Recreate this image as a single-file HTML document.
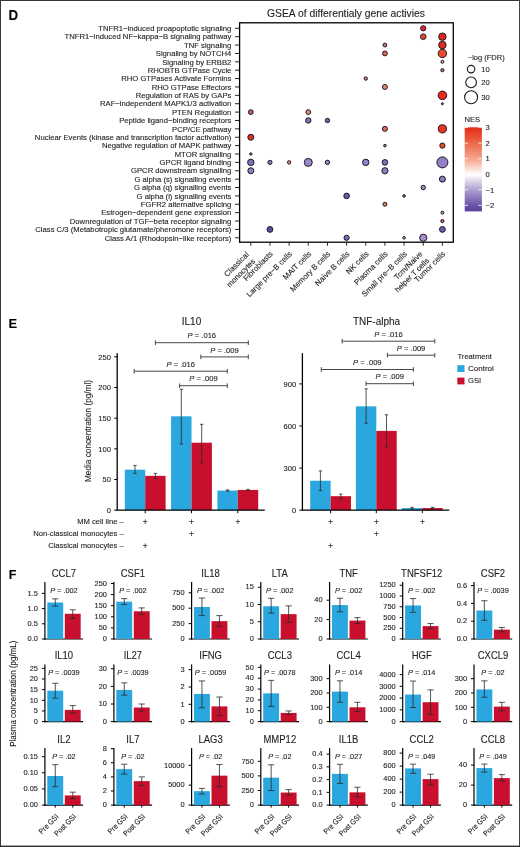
<!DOCTYPE html>
<html><head><meta charset="utf-8"><style>
html,body{margin:0;padding:0;background:#fff;}
svg{display:block;will-change:transform;font-family:"Liberation Sans", sans-serif;} text{stroke:#231f20;stroke-width:0.12px;}
</style></head><body>
<svg width="520" height="847" viewBox="0 0 520 847">
<rect x="0" y="0" width="520" height="847" fill="#fff"/>
<text transform="translate(8.40,19.70) scale(0.9,1)" font-size="14.8" text-anchor="start" fill="#000" font-weight="bold" >D</text>
<text transform="translate(8.60,327.60) scale(0.95,1)" font-size="13.6" text-anchor="start" fill="#000" font-weight="bold" >E</text>
<text transform="translate(8.80,579.10) scale(0.95,1)" font-size="13.2" text-anchor="start" fill="#000" font-weight="bold" >F</text>
<text x="346.00" y="17.20" font-size="10.3" text-anchor="middle" fill="#231f20" font-weight="normal" >GSEA of differentialy gene activies</text>
<text x="231.40" y="31.00" font-size="7.7" text-anchor="end" fill="#231f20" font-weight="normal" >TNFR1−induced proapoptotic signaling</text>
<line x1="235.00" y1="28.30" x2="239.60" y2="28.30" stroke="#231f20" stroke-width="1.0"/>
<text x="231.40" y="39.38" font-size="7.7" text-anchor="end" fill="#231f20" font-weight="normal" >TNFR1−induced NF−kappa−B signaling pathway</text>
<line x1="235.00" y1="36.68" x2="239.60" y2="36.68" stroke="#231f20" stroke-width="1.0"/>
<text x="231.40" y="47.76" font-size="7.7" text-anchor="end" fill="#231f20" font-weight="normal" >TNF signaling</text>
<line x1="235.00" y1="45.06" x2="239.60" y2="45.06" stroke="#231f20" stroke-width="1.0"/>
<text x="231.40" y="56.14" font-size="7.7" text-anchor="end" fill="#231f20" font-weight="normal" >Signaling by NOTCH4</text>
<line x1="235.00" y1="53.44" x2="239.60" y2="53.44" stroke="#231f20" stroke-width="1.0"/>
<text x="231.40" y="64.52" font-size="7.7" text-anchor="end" fill="#231f20" font-weight="normal" >Signaling by ERBB2</text>
<line x1="235.00" y1="61.82" x2="239.60" y2="61.82" stroke="#231f20" stroke-width="1.0"/>
<text x="231.40" y="72.90" font-size="7.7" text-anchor="end" fill="#231f20" font-weight="normal" >RHOBTB GTPase Cycle</text>
<line x1="235.00" y1="70.20" x2="239.60" y2="70.20" stroke="#231f20" stroke-width="1.0"/>
<text x="231.40" y="81.28" font-size="7.7" text-anchor="end" fill="#231f20" font-weight="normal" >RHO GTPases Activate Formins</text>
<line x1="235.00" y1="78.58" x2="239.60" y2="78.58" stroke="#231f20" stroke-width="1.0"/>
<text x="231.40" y="89.66" font-size="7.7" text-anchor="end" fill="#231f20" font-weight="normal" >RHO GTPase Effectors</text>
<line x1="235.00" y1="86.96" x2="239.60" y2="86.96" stroke="#231f20" stroke-width="1.0"/>
<text x="231.40" y="98.04" font-size="7.7" text-anchor="end" fill="#231f20" font-weight="normal" >Regulation of RAS by GAPs</text>
<line x1="235.00" y1="95.34" x2="239.60" y2="95.34" stroke="#231f20" stroke-width="1.0"/>
<text x="231.40" y="106.42" font-size="7.7" text-anchor="end" fill="#231f20" font-weight="normal" >RAF−independent MAPK1/3 activation</text>
<line x1="235.00" y1="103.72" x2="239.60" y2="103.72" stroke="#231f20" stroke-width="1.0"/>
<text x="231.40" y="114.80" font-size="7.7" text-anchor="end" fill="#231f20" font-weight="normal" >PTEN Regulation</text>
<line x1="235.00" y1="112.10" x2="239.60" y2="112.10" stroke="#231f20" stroke-width="1.0"/>
<text x="231.40" y="123.18" font-size="7.7" text-anchor="end" fill="#231f20" font-weight="normal" >Peptide ligand−binding receptors</text>
<line x1="235.00" y1="120.48" x2="239.60" y2="120.48" stroke="#231f20" stroke-width="1.0"/>
<text x="231.40" y="131.56" font-size="7.7" text-anchor="end" fill="#231f20" font-weight="normal" >PCP/CE pathway</text>
<line x1="235.00" y1="128.86" x2="239.60" y2="128.86" stroke="#231f20" stroke-width="1.0"/>
<text x="231.40" y="139.94" font-size="7.7" text-anchor="end" fill="#231f20" font-weight="normal" >Nuclear Events (kinase and transcription factor activation)</text>
<line x1="235.00" y1="137.24" x2="239.60" y2="137.24" stroke="#231f20" stroke-width="1.0"/>
<text x="231.40" y="148.32" font-size="7.7" text-anchor="end" fill="#231f20" font-weight="normal" >Negative regulation of MAPK pathway</text>
<line x1="235.00" y1="145.62" x2="239.60" y2="145.62" stroke="#231f20" stroke-width="1.0"/>
<text x="231.40" y="156.70" font-size="7.7" text-anchor="end" fill="#231f20" font-weight="normal" >MTOR signalling</text>
<line x1="235.00" y1="154.00" x2="239.60" y2="154.00" stroke="#231f20" stroke-width="1.0"/>
<text x="231.40" y="165.08" font-size="7.7" text-anchor="end" fill="#231f20" font-weight="normal" >GPCR ligand binding</text>
<line x1="235.00" y1="162.38" x2="239.60" y2="162.38" stroke="#231f20" stroke-width="1.0"/>
<text x="231.40" y="173.46" font-size="7.7" text-anchor="end" fill="#231f20" font-weight="normal" >GPCR downstream signalling</text>
<line x1="235.00" y1="170.76" x2="239.60" y2="170.76" stroke="#231f20" stroke-width="1.0"/>
<text x="231.40" y="181.84" font-size="7.7" text-anchor="end" fill="#231f20" font-weight="normal" >G alpha (s) signalling events</text>
<line x1="235.00" y1="179.14" x2="239.60" y2="179.14" stroke="#231f20" stroke-width="1.0"/>
<text x="231.40" y="190.22" font-size="7.7" text-anchor="end" fill="#231f20" font-weight="normal" >G alpha (q) signalling events</text>
<line x1="235.00" y1="187.52" x2="239.60" y2="187.52" stroke="#231f20" stroke-width="1.0"/>
<text x="231.40" y="198.60" font-size="7.7" text-anchor="end" fill="#231f20" font-weight="normal" >G alpha (i) signalling events</text>
<line x1="235.00" y1="195.90" x2="239.60" y2="195.90" stroke="#231f20" stroke-width="1.0"/>
<text x="231.40" y="206.98" font-size="7.7" text-anchor="end" fill="#231f20" font-weight="normal" >FGFR2 alternative splicing</text>
<line x1="235.00" y1="204.28" x2="239.60" y2="204.28" stroke="#231f20" stroke-width="1.0"/>
<text x="231.40" y="215.36" font-size="7.7" text-anchor="end" fill="#231f20" font-weight="normal" >Estrogen−dependent gene expression</text>
<line x1="235.00" y1="212.66" x2="239.60" y2="212.66" stroke="#231f20" stroke-width="1.0"/>
<text x="231.40" y="223.74" font-size="7.7" text-anchor="end" fill="#231f20" font-weight="normal" >Downregulation of TGF−beta receptor signaling</text>
<line x1="235.00" y1="221.04" x2="239.60" y2="221.04" stroke="#231f20" stroke-width="1.0"/>
<text x="231.40" y="232.12" font-size="7.7" text-anchor="end" fill="#231f20" font-weight="normal" >Class C/3 (Metabotropic glutamate/pheromone receptors)</text>
<line x1="235.00" y1="229.42" x2="239.60" y2="229.42" stroke="#231f20" stroke-width="1.0"/>
<text x="231.40" y="240.50" font-size="7.7" text-anchor="end" fill="#231f20" font-weight="normal" >Class A/1 (Rhodopsin−like receptors)</text>
<line x1="235.00" y1="237.80" x2="239.60" y2="237.80" stroke="#231f20" stroke-width="1.0"/>
<line x1="250.80" y1="242.20" x2="250.80" y2="245.70" stroke="#231f20" stroke-width="1.0"/>
<text transform="translate(249.40,255.10) rotate(-45)" font-size="7.8" text-anchor="end" fill="#231f20" >Classical</text>
<text transform="translate(255.80,261.70) rotate(-45)" font-size="7.6" text-anchor="end" fill="#231f20" >monocytes</text>
<line x1="269.96" y1="242.20" x2="269.96" y2="245.70" stroke="#231f20" stroke-width="1.0"/>
<text transform="translate(273.36,254.50) rotate(-45)" font-size="7.8" text-anchor="end" fill="#231f20" >Fibroblasts</text>
<line x1="289.12" y1="242.20" x2="289.12" y2="245.70" stroke="#231f20" stroke-width="1.0"/>
<text transform="translate(292.52,254.50) rotate(-45)" font-size="7.8" text-anchor="end" fill="#231f20" >Large pre−B cells</text>
<line x1="308.28" y1="242.20" x2="308.28" y2="245.70" stroke="#231f20" stroke-width="1.0"/>
<text transform="translate(311.68,254.50) rotate(-45)" font-size="7.8" text-anchor="end" fill="#231f20" >MAIT cells</text>
<line x1="327.44" y1="242.20" x2="327.44" y2="245.70" stroke="#231f20" stroke-width="1.0"/>
<text transform="translate(330.84,254.50) rotate(-45)" font-size="7.8" text-anchor="end" fill="#231f20" >Memory B cells</text>
<line x1="346.60" y1="242.20" x2="346.60" y2="245.70" stroke="#231f20" stroke-width="1.0"/>
<text transform="translate(350.00,254.50) rotate(-45)" font-size="7.8" text-anchor="end" fill="#231f20" >Naive B cells</text>
<line x1="365.76" y1="242.20" x2="365.76" y2="245.70" stroke="#231f20" stroke-width="1.0"/>
<text transform="translate(369.16,254.50) rotate(-45)" font-size="7.8" text-anchor="end" fill="#231f20" >NK cells</text>
<line x1="384.92" y1="242.20" x2="384.92" y2="245.70" stroke="#231f20" stroke-width="1.0"/>
<text transform="translate(388.32,254.50) rotate(-45)" font-size="7.8" text-anchor="end" fill="#231f20" >Plasma cells</text>
<line x1="404.08" y1="242.20" x2="404.08" y2="245.70" stroke="#231f20" stroke-width="1.0"/>
<text transform="translate(407.48,254.50) rotate(-45)" font-size="7.8" text-anchor="end" fill="#231f20" >Small pre−B cells</text>
<line x1="423.24" y1="242.20" x2="423.24" y2="245.70" stroke="#231f20" stroke-width="1.0"/>
<text transform="translate(423.04,254.50) rotate(-45)" font-size="7.8" text-anchor="end" fill="#231f20" >Tcm/Naive</text>
<text transform="translate(429.64,261.10) rotate(-45)" font-size="7.6" text-anchor="end" fill="#231f20" >helper T cells</text>
<line x1="442.40" y1="242.20" x2="442.40" y2="245.70" stroke="#231f20" stroke-width="1.0"/>
<text transform="translate(445.80,254.50) rotate(-45)" font-size="7.8" text-anchor="end" fill="#231f20" >Tumor cells</text>
<rect x="239.6" y="22.8" width="213.70" height="219.40" fill="none" stroke="#000" stroke-width="1.3"/>
<circle cx="442.40" cy="36.68" r="3.70" fill="#e52620" stroke="#1e1620" stroke-width="1.0"/>
<circle cx="442.40" cy="45.06" r="3.70" fill="#e32a22" stroke="#1e1620" stroke-width="1.0"/>
<circle cx="442.40" cy="53.44" r="4.20" fill="#ea4a28" stroke="#1e1620" stroke-width="1.0"/>
<circle cx="442.40" cy="61.82" r="1.50" fill="#e8a0a0" stroke="#1e1620" stroke-width="1.0"/>
<circle cx="442.40" cy="70.20" r="1.60" fill="#b87878" stroke="#1e1620" stroke-width="1.0"/>
<circle cx="442.40" cy="95.34" r="4.30" fill="#e82a1c" stroke="#1e1620" stroke-width="1.0"/>
<circle cx="442.40" cy="103.72" r="1.00" fill="#666" stroke="#1e1620" stroke-width="1.0"/>
<circle cx="442.40" cy="128.86" r="4.10" fill="#e8341e" stroke="#1e1620" stroke-width="1.0"/>
<circle cx="442.40" cy="145.62" r="2.60" fill="#e4502e" stroke="#1e1620" stroke-width="1.0"/>
<circle cx="442.40" cy="162.38" r="5.50" fill="#9580c8" stroke="#1e1620" stroke-width="1.0"/>
<circle cx="442.40" cy="179.14" r="3.00" fill="#8a7cc0" stroke="#1e1620" stroke-width="1.0"/>
<circle cx="442.40" cy="212.66" r="1.50" fill="#a8a888" stroke="#1e1620" stroke-width="1.0"/>
<circle cx="442.40" cy="221.04" r="1.60" fill="#d06050" stroke="#1e1620" stroke-width="1.0"/>
<circle cx="442.40" cy="229.42" r="2.90" fill="#6a5aa8" stroke="#1e1620" stroke-width="1.0"/>
<circle cx="423.24" cy="28.30" r="2.60" fill="#e0242a" stroke="#1e1620" stroke-width="1.0"/>
<circle cx="423.24" cy="36.68" r="2.80" fill="#e84a30" stroke="#1e1620" stroke-width="1.0"/>
<circle cx="423.24" cy="187.52" r="2.20" fill="#9a90b8" stroke="#1e1620" stroke-width="1.0"/>
<circle cx="423.24" cy="237.80" r="3.60" fill="#a48ed0" stroke="#1e1620" stroke-width="1.0"/>
<circle cx="404.08" cy="195.90" r="1.30" fill="#a08088" stroke="#1e1620" stroke-width="1.0"/>
<circle cx="404.08" cy="237.80" r="1.30" fill="#e0a890" stroke="#1e1620" stroke-width="1.0"/>
<circle cx="384.92" cy="45.06" r="1.90" fill="#c87c70" stroke="#1e1620" stroke-width="1.0"/>
<circle cx="384.92" cy="53.44" r="2.40" fill="#e26a50" stroke="#1e1620" stroke-width="1.0"/>
<circle cx="384.92" cy="86.96" r="2.50" fill="#e88a70" stroke="#1e1620" stroke-width="1.0"/>
<circle cx="384.92" cy="128.86" r="2.50" fill="#e46a50" stroke="#1e1620" stroke-width="1.0"/>
<circle cx="384.92" cy="145.62" r="1.30" fill="#c08068" stroke="#1e1620" stroke-width="1.0"/>
<circle cx="384.92" cy="162.38" r="2.80" fill="#8070c0" stroke="#1e1620" stroke-width="1.0"/>
<circle cx="384.92" cy="170.76" r="3.10" fill="#8e80c8" stroke="#1e1620" stroke-width="1.0"/>
<circle cx="384.92" cy="204.28" r="2.00" fill="#e07a60" stroke="#1e1620" stroke-width="1.0"/>
<circle cx="365.76" cy="78.58" r="1.70" fill="#c08878" stroke="#1e1620" stroke-width="1.0"/>
<circle cx="365.76" cy="162.38" r="3.20" fill="#9482c8" stroke="#1e1620" stroke-width="1.0"/>
<circle cx="346.60" cy="195.90" r="2.80" fill="#6a5aa8" stroke="#1e1620" stroke-width="1.0"/>
<circle cx="346.60" cy="237.80" r="2.60" fill="#7a6ab8" stroke="#1e1620" stroke-width="1.0"/>
<circle cx="327.44" cy="120.48" r="2.20" fill="#7868a8" stroke="#1e1620" stroke-width="1.0"/>
<circle cx="327.44" cy="162.38" r="2.20" fill="#9088b8" stroke="#1e1620" stroke-width="1.0"/>
<circle cx="308.28" cy="112.10" r="2.40" fill="#d89070" stroke="#1e1620" stroke-width="1.0"/>
<circle cx="308.28" cy="120.48" r="2.70" fill="#8070c0" stroke="#1e1620" stroke-width="1.0"/>
<circle cx="308.28" cy="162.38" r="4.00" fill="#9a88cc" stroke="#1e1620" stroke-width="1.0"/>
<circle cx="289.12" cy="162.38" r="1.70" fill="#e09070" stroke="#1e1620" stroke-width="1.0"/>
<circle cx="269.96" cy="162.38" r="2.10" fill="#8878c0" stroke="#1e1620" stroke-width="1.0"/>
<circle cx="269.96" cy="229.42" r="2.90" fill="#5e4ea0" stroke="#1e1620" stroke-width="1.0"/>
<circle cx="250.80" cy="112.10" r="2.40" fill="#c86060" stroke="#1e1620" stroke-width="1.0"/>
<circle cx="250.80" cy="137.24" r="3.00" fill="#e03020" stroke="#1e1620" stroke-width="1.0"/>
<circle cx="250.80" cy="154.00" r="1.20" fill="#8080a0" stroke="#1e1620" stroke-width="1.0"/>
<circle cx="250.80" cy="162.38" r="3.20" fill="#8070c0" stroke="#1e1620" stroke-width="1.0"/>
<circle cx="250.80" cy="170.76" r="3.00" fill="#8e80c4" stroke="#1e1620" stroke-width="1.0"/>
<text x="467.80" y="60.20" font-size="7.5" text-anchor="start" fill="#231f20" font-weight="normal" >−log (FDR)</text>
<circle cx="471.1" cy="69.1" r="3.75" fill="none" stroke="#1a1a1a" stroke-width="1.1"/>
<text x="481.30" y="71.60" font-size="7.65" text-anchor="start" fill="#231f20" font-weight="normal" >10</text>
<circle cx="471.1" cy="82.4" r="5.35" fill="none" stroke="#1a1a1a" stroke-width="1.1"/>
<text x="481.30" y="85.00" font-size="7.65" text-anchor="start" fill="#231f20" font-weight="normal" >20</text>
<circle cx="471.1" cy="97.3" r="6.5" fill="none" stroke="#1a1a1a" stroke-width="1.1"/>
<text x="481.30" y="100.00" font-size="7.65" text-anchor="start" fill="#231f20" font-weight="normal" >30</text>
<text x="464.50" y="121.80" font-size="7.65" text-anchor="start" fill="#231f20" font-weight="normal" >NES</text>
<defs><linearGradient id="nes" x1="0" y1="0" x2="0" y2="1"><stop offset="0" stop-color="#e42a1a"/><stop offset="0.193" stop-color="#ee6a4a"/><stop offset="0.378" stop-color="#f5a58e"/><stop offset="0.563" stop-color="#ffffff"/><stop offset="0.748" stop-color="#ad9dcf"/><stop offset="0.933" stop-color="#6a50a8"/><stop offset="1" stop-color="#5a3e98"/></linearGradient></defs>
<rect x="464.7" y="127.3" width="17.2" height="84.1" fill="url(#nes)"/>
<line x1="464.50" y1="127.60" x2="468.00" y2="127.60" stroke="#fff" stroke-width="0.8"/>
<line x1="478.30" y1="127.60" x2="481.80" y2="127.60" stroke="#fff" stroke-width="0.8"/>
<text x="485.50" y="130.30" font-size="7.65" text-anchor="start" fill="#231f20" font-weight="normal" >3</text>
<line x1="464.50" y1="143.15" x2="468.00" y2="143.15" stroke="#fff" stroke-width="0.8"/>
<line x1="478.30" y1="143.15" x2="481.80" y2="143.15" stroke="#fff" stroke-width="0.8"/>
<text x="485.50" y="145.85" font-size="7.65" text-anchor="start" fill="#231f20" font-weight="normal" >2</text>
<line x1="464.50" y1="158.70" x2="468.00" y2="158.70" stroke="#fff" stroke-width="0.8"/>
<line x1="478.30" y1="158.70" x2="481.80" y2="158.70" stroke="#fff" stroke-width="0.8"/>
<text x="485.50" y="161.40" font-size="7.65" text-anchor="start" fill="#231f20" font-weight="normal" >1</text>
<line x1="464.50" y1="174.25" x2="468.00" y2="174.25" stroke="#fff" stroke-width="0.8"/>
<line x1="478.30" y1="174.25" x2="481.80" y2="174.25" stroke="#fff" stroke-width="0.8"/>
<text x="485.50" y="176.95" font-size="7.65" text-anchor="start" fill="#231f20" font-weight="normal" >0</text>
<line x1="464.50" y1="189.80" x2="468.00" y2="189.80" stroke="#fff" stroke-width="0.8"/>
<line x1="478.30" y1="189.80" x2="481.80" y2="189.80" stroke="#fff" stroke-width="0.8"/>
<text x="485.50" y="192.50" font-size="7.65" text-anchor="start" fill="#231f20" font-weight="normal" >−1</text>
<line x1="464.50" y1="205.35" x2="468.00" y2="205.35" stroke="#fff" stroke-width="0.8"/>
<line x1="478.30" y1="205.35" x2="481.80" y2="205.35" stroke="#fff" stroke-width="0.8"/>
<text x="485.50" y="208.05" font-size="7.65" text-anchor="start" fill="#231f20" font-weight="normal" >−2</text>
<line x1="117.20" y1="510.20" x2="117.20" y2="353.20" stroke="#000" stroke-width="1.3"/>
<line x1="114.20" y1="510.20" x2="117.20" y2="510.20" stroke="#000" stroke-width="1.0"/>
<text transform="translate(111.00,512.90) scale(0.95,1)" font-size="8.0" text-anchor="end" fill="#231f20" font-weight="normal" >0</text>
<line x1="114.20" y1="479.52" x2="117.20" y2="479.52" stroke="#000" stroke-width="1.0"/>
<text transform="translate(111.00,482.22) scale(0.95,1)" font-size="8.0" text-anchor="end" fill="#231f20" font-weight="normal" >50</text>
<line x1="114.20" y1="448.84" x2="117.20" y2="448.84" stroke="#000" stroke-width="1.0"/>
<text transform="translate(111.00,451.54) scale(0.95,1)" font-size="8.0" text-anchor="end" fill="#231f20" font-weight="normal" >100</text>
<line x1="114.20" y1="418.16" x2="117.20" y2="418.16" stroke="#000" stroke-width="1.0"/>
<text transform="translate(111.00,420.86) scale(0.95,1)" font-size="8.0" text-anchor="end" fill="#231f20" font-weight="normal" >150</text>
<line x1="114.20" y1="387.48" x2="117.20" y2="387.48" stroke="#000" stroke-width="1.0"/>
<text transform="translate(111.00,390.18) scale(0.95,1)" font-size="8.0" text-anchor="end" fill="#231f20" font-weight="normal" >200</text>
<line x1="114.20" y1="356.80" x2="117.20" y2="356.80" stroke="#000" stroke-width="1.0"/>
<text transform="translate(111.00,359.50) scale(0.95,1)" font-size="8.0" text-anchor="end" fill="#231f20" font-weight="normal" >250</text>
<text x="191.50" y="324.60" font-size="10" text-anchor="middle" fill="#231f20" font-weight="normal" >IL10</text>
<rect x="124.80" y="469.70" width="20.4" height="40.50" fill="#2aa7df"/>
<rect x="145.20" y="475.84" width="20.4" height="34.36" fill="#c8102e"/>
<line x1="135.00" y1="473.38" x2="135.00" y2="465.41" stroke="#2a2a2a" stroke-width="0.8"/>
<line x1="133.30" y1="473.38" x2="136.70" y2="473.38" stroke="#2a2a2a" stroke-width="0.8"/>
<line x1="133.30" y1="465.41" x2="136.70" y2="465.41" stroke="#2a2a2a" stroke-width="0.8"/>
<line x1="155.40" y1="478.29" x2="155.40" y2="473.38" stroke="#2a2a2a" stroke-width="0.8"/>
<line x1="153.70" y1="478.29" x2="157.10" y2="478.29" stroke="#2a2a2a" stroke-width="0.8"/>
<line x1="153.70" y1="473.38" x2="157.10" y2="473.38" stroke="#2a2a2a" stroke-width="0.8"/>
<line x1="145.20" y1="510.20" x2="145.20" y2="513.20" stroke="#000" stroke-width="1.0"/>
<rect x="171.10" y="416.32" width="20.4" height="93.88" fill="#2aa7df"/>
<rect x="191.50" y="442.70" width="20.4" height="67.50" fill="#c8102e"/>
<line x1="181.30" y1="443.93" x2="181.30" y2="389.32" stroke="#2a2a2a" stroke-width="0.8"/>
<line x1="179.60" y1="443.93" x2="183.00" y2="443.93" stroke="#2a2a2a" stroke-width="0.8"/>
<line x1="179.60" y1="389.32" x2="183.00" y2="389.32" stroke="#2a2a2a" stroke-width="0.8"/>
<line x1="201.70" y1="462.95" x2="201.70" y2="424.30" stroke="#2a2a2a" stroke-width="0.8"/>
<line x1="200.00" y1="462.95" x2="203.40" y2="462.95" stroke="#2a2a2a" stroke-width="0.8"/>
<line x1="200.00" y1="424.30" x2="203.40" y2="424.30" stroke="#2a2a2a" stroke-width="0.8"/>
<line x1="191.50" y1="510.20" x2="191.50" y2="513.20" stroke="#000" stroke-width="1.0"/>
<rect x="217.40" y="490.56" width="20.4" height="19.64" fill="#2aa7df"/>
<rect x="237.80" y="489.95" width="20.4" height="20.25" fill="#c8102e"/>
<line x1="227.60" y1="491.18" x2="227.60" y2="489.95" stroke="#2a2a2a" stroke-width="0.8"/>
<line x1="225.90" y1="491.18" x2="229.30" y2="491.18" stroke="#2a2a2a" stroke-width="0.8"/>
<line x1="225.90" y1="489.95" x2="229.30" y2="489.95" stroke="#2a2a2a" stroke-width="0.8"/>
<line x1="248.00" y1="490.56" x2="248.00" y2="489.34" stroke="#2a2a2a" stroke-width="0.8"/>
<line x1="246.30" y1="490.56" x2="249.70" y2="490.56" stroke="#2a2a2a" stroke-width="0.8"/>
<line x1="246.30" y1="489.34" x2="249.70" y2="489.34" stroke="#2a2a2a" stroke-width="0.8"/>
<line x1="237.80" y1="510.20" x2="237.80" y2="513.20" stroke="#000" stroke-width="1.0"/>
<line x1="116.55" y1="510.20" x2="264.80" y2="510.20" stroke="#000" stroke-width="1.3"/>
<line x1="155.40" y1="342.70" x2="248.30" y2="342.70" stroke="#333" stroke-width="0.9"/>
<line x1="155.40" y1="340.40" x2="155.40" y2="345.00" stroke="#333" stroke-width="0.9"/>
<line x1="248.30" y1="340.40" x2="248.30" y2="345.00" stroke="#333" stroke-width="0.9"/>
<text x="201.85" y="338.40" font-size="7.6" text-anchor="middle" fill="#231f20"><tspan font-style="italic">P</tspan> = .016</text>
<line x1="200.80" y1="356.90" x2="248.30" y2="356.90" stroke="#333" stroke-width="0.9"/>
<line x1="200.80" y1="354.60" x2="200.80" y2="359.20" stroke="#333" stroke-width="0.9"/>
<line x1="248.30" y1="354.60" x2="248.30" y2="359.20" stroke="#333" stroke-width="0.9"/>
<text x="224.55" y="352.60" font-size="7.6" text-anchor="middle" fill="#231f20"><tspan font-style="italic">P</tspan> = .009</text>
<line x1="134.20" y1="371.20" x2="227.30" y2="371.20" stroke="#333" stroke-width="0.9"/>
<line x1="134.20" y1="368.90" x2="134.20" y2="373.50" stroke="#333" stroke-width="0.9"/>
<line x1="227.30" y1="368.90" x2="227.30" y2="373.50" stroke="#333" stroke-width="0.9"/>
<text x="180.75" y="366.90" font-size="7.6" text-anchor="middle" fill="#231f20"><tspan font-style="italic">P</tspan> = .016</text>
<line x1="179.60" y1="385.70" x2="227.30" y2="385.70" stroke="#333" stroke-width="0.9"/>
<line x1="179.60" y1="383.40" x2="179.60" y2="388.00" stroke="#333" stroke-width="0.9"/>
<line x1="227.30" y1="383.40" x2="227.30" y2="388.00" stroke="#333" stroke-width="0.9"/>
<text x="203.45" y="381.40" font-size="7.6" text-anchor="middle" fill="#231f20"><tspan font-style="italic">P</tspan> = .009</text>
<text x="145.20" y="524.80" font-size="8.2" text-anchor="middle" fill="#231f20" font-weight="normal" >+</text>
<text x="191.50" y="524.80" font-size="8.2" text-anchor="middle" fill="#231f20" font-weight="normal" >+</text>
<text x="237.80" y="524.80" font-size="8.2" text-anchor="middle" fill="#231f20" font-weight="normal" >+</text>
<text x="191.50" y="536.90" font-size="8.2" text-anchor="middle" fill="#231f20" font-weight="normal" >+</text>
<text x="145.20" y="549.00" font-size="8.2" text-anchor="middle" fill="#231f20" font-weight="normal" >+</text>
<line x1="302.40" y1="510.20" x2="302.40" y2="353.20" stroke="#000" stroke-width="1.3"/>
<line x1="299.40" y1="510.20" x2="302.40" y2="510.20" stroke="#000" stroke-width="1.0"/>
<text transform="translate(296.20,512.90) scale(0.95,1)" font-size="8.0" text-anchor="end" fill="#231f20" font-weight="normal" >0</text>
<line x1="299.40" y1="468.10" x2="302.40" y2="468.10" stroke="#000" stroke-width="1.0"/>
<text transform="translate(296.20,470.80) scale(0.95,1)" font-size="8.0" text-anchor="end" fill="#231f20" font-weight="normal" >300</text>
<line x1="299.40" y1="426.00" x2="302.40" y2="426.00" stroke="#000" stroke-width="1.0"/>
<text transform="translate(296.20,428.70) scale(0.95,1)" font-size="8.0" text-anchor="end" fill="#231f20" font-weight="normal" >600</text>
<line x1="299.40" y1="383.90" x2="302.40" y2="383.90" stroke="#000" stroke-width="1.0"/>
<text transform="translate(296.20,386.60) scale(0.95,1)" font-size="8.0" text-anchor="end" fill="#231f20" font-weight="normal" >900</text>
<text x="376.50" y="324.60" font-size="10" text-anchor="middle" fill="#231f20" font-weight="normal" >TNF-alpha</text>
<rect x="310.20" y="480.73" width="20.4" height="29.47" fill="#2aa7df"/>
<rect x="330.60" y="496.17" width="20.4" height="14.03" fill="#c8102e"/>
<line x1="320.40" y1="490.55" x2="320.40" y2="470.91" stroke="#2a2a2a" stroke-width="0.8"/>
<line x1="318.70" y1="490.55" x2="322.10" y2="490.55" stroke="#2a2a2a" stroke-width="0.8"/>
<line x1="318.70" y1="470.91" x2="322.10" y2="470.91" stroke="#2a2a2a" stroke-width="0.8"/>
<line x1="340.80" y1="498.97" x2="340.80" y2="494.06" stroke="#2a2a2a" stroke-width="0.8"/>
<line x1="339.10" y1="498.97" x2="342.50" y2="498.97" stroke="#2a2a2a" stroke-width="0.8"/>
<line x1="339.10" y1="494.06" x2="342.50" y2="494.06" stroke="#2a2a2a" stroke-width="0.8"/>
<line x1="330.60" y1="510.20" x2="330.60" y2="513.20" stroke="#000" stroke-width="1.0"/>
<rect x="355.90" y="406.35" width="20.4" height="103.85" fill="#2aa7df"/>
<rect x="376.30" y="430.91" width="20.4" height="79.29" fill="#c8102e"/>
<line x1="366.10" y1="423.19" x2="366.10" y2="388.81" stroke="#2a2a2a" stroke-width="0.8"/>
<line x1="364.40" y1="423.19" x2="367.80" y2="423.19" stroke="#2a2a2a" stroke-width="0.8"/>
<line x1="364.40" y1="388.81" x2="367.80" y2="388.81" stroke="#2a2a2a" stroke-width="0.8"/>
<line x1="386.50" y1="447.05" x2="386.50" y2="414.77" stroke="#2a2a2a" stroke-width="0.8"/>
<line x1="384.80" y1="447.05" x2="388.20" y2="447.05" stroke="#2a2a2a" stroke-width="0.8"/>
<line x1="384.80" y1="414.77" x2="388.20" y2="414.77" stroke="#2a2a2a" stroke-width="0.8"/>
<line x1="376.30" y1="510.20" x2="376.30" y2="513.20" stroke="#000" stroke-width="1.0"/>
<rect x="401.90" y="508.09" width="20.4" height="2.10" fill="#2aa7df"/>
<rect x="422.30" y="508.09" width="20.4" height="2.10" fill="#c8102e"/>
<line x1="412.10" y1="508.80" x2="412.10" y2="507.39" stroke="#2a2a2a" stroke-width="0.8"/>
<line x1="410.40" y1="508.80" x2="413.80" y2="508.80" stroke="#2a2a2a" stroke-width="0.8"/>
<line x1="410.40" y1="507.39" x2="413.80" y2="507.39" stroke="#2a2a2a" stroke-width="0.8"/>
<line x1="432.50" y1="508.80" x2="432.50" y2="507.39" stroke="#2a2a2a" stroke-width="0.8"/>
<line x1="430.80" y1="508.80" x2="434.20" y2="508.80" stroke="#2a2a2a" stroke-width="0.8"/>
<line x1="430.80" y1="507.39" x2="434.20" y2="507.39" stroke="#2a2a2a" stroke-width="0.8"/>
<line x1="422.30" y1="510.20" x2="422.30" y2="513.20" stroke="#000" stroke-width="1.0"/>
<line x1="301.75" y1="510.20" x2="449.30" y2="510.20" stroke="#000" stroke-width="1.3"/>
<line x1="342.10" y1="341.20" x2="434.80" y2="341.20" stroke="#333" stroke-width="0.9"/>
<line x1="342.10" y1="338.90" x2="342.10" y2="343.50" stroke="#333" stroke-width="0.9"/>
<line x1="434.80" y1="338.90" x2="434.80" y2="343.50" stroke="#333" stroke-width="0.9"/>
<text x="388.45" y="336.90" font-size="7.6" text-anchor="middle" fill="#231f20"><tspan font-style="italic">P</tspan> = .016</text>
<line x1="387.40" y1="355.20" x2="434.80" y2="355.20" stroke="#333" stroke-width="0.9"/>
<line x1="387.40" y1="352.90" x2="387.40" y2="357.50" stroke="#333" stroke-width="0.9"/>
<line x1="434.80" y1="352.90" x2="434.80" y2="357.50" stroke="#333" stroke-width="0.9"/>
<text x="411.10" y="350.90" font-size="7.6" text-anchor="middle" fill="#231f20"><tspan font-style="italic">P</tspan> = .009</text>
<line x1="321.30" y1="369.50" x2="413.40" y2="369.50" stroke="#333" stroke-width="0.9"/>
<line x1="321.30" y1="367.20" x2="321.30" y2="371.80" stroke="#333" stroke-width="0.9"/>
<line x1="413.40" y1="367.20" x2="413.40" y2="371.80" stroke="#333" stroke-width="0.9"/>
<text x="367.35" y="365.20" font-size="7.6" text-anchor="middle" fill="#231f20"><tspan font-style="italic">P</tspan> = .009</text>
<line x1="366.00" y1="383.70" x2="413.40" y2="383.70" stroke="#333" stroke-width="0.9"/>
<line x1="366.00" y1="381.40" x2="366.00" y2="386.00" stroke="#333" stroke-width="0.9"/>
<line x1="413.40" y1="381.40" x2="413.40" y2="386.00" stroke="#333" stroke-width="0.9"/>
<text x="389.70" y="379.40" font-size="7.6" text-anchor="middle" fill="#231f20"><tspan font-style="italic">P</tspan> = .009</text>
<text x="330.60" y="524.80" font-size="8.2" text-anchor="middle" fill="#231f20" font-weight="normal" >+</text>
<text x="376.30" y="524.80" font-size="8.2" text-anchor="middle" fill="#231f20" font-weight="normal" >+</text>
<text x="422.30" y="524.80" font-size="8.2" text-anchor="middle" fill="#231f20" font-weight="normal" >+</text>
<text x="376.30" y="536.90" font-size="8.2" text-anchor="middle" fill="#231f20" font-weight="normal" >+</text>
<text x="330.60" y="549.00" font-size="8.2" text-anchor="middle" fill="#231f20" font-weight="normal" >+</text>
<text transform="translate(91.00,431.00) rotate(-90)" font-size="9.8" text-anchor="middle" fill="#231f20" textLength="102" lengthAdjust="spacingAndGlyphs" >Media concentration (pg/ml)</text>
<text x="123.70" y="524.00" font-size="7.6" text-anchor="end" fill="#231f20" font-weight="normal" >MM cell line –</text>
<text x="123.70" y="536.10" font-size="7.6" text-anchor="end" fill="#231f20" font-weight="normal" >Non-classical monocytes –</text>
<text x="123.70" y="548.20" font-size="7.6" text-anchor="end" fill="#231f20" font-weight="normal" >Classical monocytes –</text>
<text x="457.50" y="359.10" font-size="7.6" text-anchor="start" fill="#231f20" font-weight="normal" >Treatment</text>
<rect x="457.3" y="365.2" width="7.2" height="6.8" fill="#2aa7df"/>
<rect x="457.3" y="377.6" width="7.2" height="6.8" fill="#c8102e"/>
<text x="468.00" y="371.30" font-size="8.0" text-anchor="start" fill="#231f20" font-weight="normal" >Control</text>
<text x="468.00" y="382.90" font-size="7.6" text-anchor="start" fill="#231f20" font-weight="normal" >GSI</text>
<line x1="44.90" y1="639.60" x2="44.90" y2="582.00" stroke="#000" stroke-width="1.2"/>
<line x1="44.30" y1="639.00" x2="83.10" y2="639.00" stroke="#000" stroke-width="1.2"/>
<line x1="41.90" y1="639.00" x2="44.90" y2="639.00" stroke="#000" stroke-width="1.0"/>
<text x="37.90" y="641.20" font-size="7.4" text-anchor="end" fill="#231f20" font-weight="normal" >0.0</text>
<line x1="41.90" y1="623.80" x2="44.90" y2="623.80" stroke="#000" stroke-width="1.0"/>
<text x="37.90" y="626.00" font-size="7.4" text-anchor="end" fill="#231f20" font-weight="normal" >0.5</text>
<line x1="41.90" y1="608.60" x2="44.90" y2="608.60" stroke="#000" stroke-width="1.0"/>
<text x="37.90" y="610.80" font-size="7.4" text-anchor="end" fill="#231f20" font-weight="normal" >1.0</text>
<line x1="41.90" y1="593.40" x2="44.90" y2="593.40" stroke="#000" stroke-width="1.0"/>
<text x="37.90" y="595.60" font-size="7.4" text-anchor="end" fill="#231f20" font-weight="normal" >1.5</text>
<text transform="translate(63.90,576.50) scale(0.95,1)" font-size="10.0" text-anchor="middle" fill="#231f20" font-weight="normal" >CCL7</text>
<text x="63.90" y="592.80" font-size="7.3" text-anchor="middle" fill="#231f20"><tspan font-style="italic">P</tspan> = .002</text>
<rect x="47.30" y="602.52" width="15.9" height="36.48" fill="#2aa7df"/>
<line x1="55.25" y1="606.17" x2="55.25" y2="598.87" stroke="#2a2a2a" stroke-width="0.8"/>
<line x1="52.15" y1="606.17" x2="58.35" y2="606.17" stroke="#2a2a2a" stroke-width="0.8"/>
<line x1="52.15" y1="598.87" x2="58.35" y2="598.87" stroke="#2a2a2a" stroke-width="0.8"/>
<rect x="64.80" y="613.77" width="15.9" height="25.23" fill="#c8102e"/>
<line x1="72.75" y1="618.33" x2="72.75" y2="609.82" stroke="#2a2a2a" stroke-width="0.8"/>
<line x1="69.65" y1="618.33" x2="75.85" y2="618.33" stroke="#2a2a2a" stroke-width="0.8"/>
<line x1="69.65" y1="609.82" x2="75.85" y2="609.82" stroke="#2a2a2a" stroke-width="0.8"/>
<line x1="113.90" y1="639.60" x2="113.90" y2="582.00" stroke="#000" stroke-width="1.2"/>
<line x1="113.30" y1="639.00" x2="152.10" y2="639.00" stroke="#000" stroke-width="1.2"/>
<line x1="110.90" y1="639.00" x2="113.90" y2="639.00" stroke="#000" stroke-width="1.0"/>
<text x="106.90" y="641.20" font-size="7.4" text-anchor="end" fill="#231f20" font-weight="normal" >0</text>
<line x1="110.90" y1="627.90" x2="113.90" y2="627.90" stroke="#000" stroke-width="1.0"/>
<text x="106.90" y="630.10" font-size="7.4" text-anchor="end" fill="#231f20" font-weight="normal" >50</text>
<line x1="110.90" y1="616.80" x2="113.90" y2="616.80" stroke="#000" stroke-width="1.0"/>
<text x="106.90" y="619.00" font-size="7.4" text-anchor="end" fill="#231f20" font-weight="normal" >100</text>
<line x1="110.90" y1="605.70" x2="113.90" y2="605.70" stroke="#000" stroke-width="1.0"/>
<text x="106.90" y="607.90" font-size="7.4" text-anchor="end" fill="#231f20" font-weight="normal" >150</text>
<line x1="110.90" y1="594.60" x2="113.90" y2="594.60" stroke="#000" stroke-width="1.0"/>
<text x="106.90" y="596.80" font-size="7.4" text-anchor="end" fill="#231f20" font-weight="normal" >200</text>
<line x1="110.90" y1="583.50" x2="113.90" y2="583.50" stroke="#000" stroke-width="1.0"/>
<text x="106.90" y="585.70" font-size="7.4" text-anchor="end" fill="#231f20" font-weight="normal" >250</text>
<text transform="translate(132.90,576.50) scale(0.95,1)" font-size="10.0" text-anchor="middle" fill="#231f20" font-weight="normal" >CSF1</text>
<text x="132.90" y="592.80" font-size="7.3" text-anchor="middle" fill="#231f20"><tspan font-style="italic">P</tspan> = .002</text>
<rect x="116.30" y="601.70" width="15.9" height="37.30" fill="#2aa7df"/>
<line x1="124.25" y1="604.59" x2="124.25" y2="598.60" stroke="#2a2a2a" stroke-width="0.8"/>
<line x1="121.15" y1="604.59" x2="127.35" y2="604.59" stroke="#2a2a2a" stroke-width="0.8"/>
<line x1="121.15" y1="598.60" x2="127.35" y2="598.60" stroke="#2a2a2a" stroke-width="0.8"/>
<rect x="133.80" y="611.25" width="15.9" height="27.75" fill="#c8102e"/>
<line x1="141.75" y1="614.58" x2="141.75" y2="607.92" stroke="#2a2a2a" stroke-width="0.8"/>
<line x1="138.65" y1="614.58" x2="144.85" y2="614.58" stroke="#2a2a2a" stroke-width="0.8"/>
<line x1="138.65" y1="607.92" x2="144.85" y2="607.92" stroke="#2a2a2a" stroke-width="0.8"/>
<line x1="191.60" y1="639.60" x2="191.60" y2="582.00" stroke="#000" stroke-width="1.2"/>
<line x1="191.00" y1="639.00" x2="229.80" y2="639.00" stroke="#000" stroke-width="1.2"/>
<line x1="188.60" y1="639.00" x2="191.60" y2="639.00" stroke="#000" stroke-width="1.0"/>
<text x="184.60" y="641.20" font-size="7.4" text-anchor="end" fill="#231f20" font-weight="normal" >0</text>
<line x1="188.60" y1="623.60" x2="191.60" y2="623.60" stroke="#000" stroke-width="1.0"/>
<text x="184.60" y="625.80" font-size="7.4" text-anchor="end" fill="#231f20" font-weight="normal" >250</text>
<line x1="188.60" y1="608.20" x2="191.60" y2="608.20" stroke="#000" stroke-width="1.0"/>
<text x="184.60" y="610.40" font-size="7.4" text-anchor="end" fill="#231f20" font-weight="normal" >500</text>
<line x1="188.60" y1="592.80" x2="191.60" y2="592.80" stroke="#000" stroke-width="1.0"/>
<text x="184.60" y="595.00" font-size="7.4" text-anchor="end" fill="#231f20" font-weight="normal" >750</text>
<text transform="translate(210.60,576.50) scale(0.95,1)" font-size="10.0" text-anchor="middle" fill="#231f20" font-weight="normal" >IL18</text>
<text x="210.60" y="592.80" font-size="7.3" text-anchor="middle" fill="#231f20"><tspan font-style="italic">P</tspan> = .002</text>
<rect x="194.00" y="606.97" width="15.9" height="32.03" fill="#2aa7df"/>
<line x1="201.95" y1="615.59" x2="201.95" y2="598.04" stroke="#2a2a2a" stroke-width="0.8"/>
<line x1="198.85" y1="615.59" x2="205.05" y2="615.59" stroke="#2a2a2a" stroke-width="0.8"/>
<line x1="198.85" y1="598.04" x2="205.05" y2="598.04" stroke="#2a2a2a" stroke-width="0.8"/>
<rect x="211.50" y="621.14" width="15.9" height="17.86" fill="#c8102e"/>
<line x1="219.45" y1="626.37" x2="219.45" y2="615.59" stroke="#2a2a2a" stroke-width="0.8"/>
<line x1="216.35" y1="626.37" x2="222.55" y2="626.37" stroke="#2a2a2a" stroke-width="0.8"/>
<line x1="216.35" y1="615.59" x2="222.55" y2="615.59" stroke="#2a2a2a" stroke-width="0.8"/>
<line x1="260.80" y1="639.60" x2="260.80" y2="582.00" stroke="#000" stroke-width="1.2"/>
<line x1="260.20" y1="639.00" x2="299.00" y2="639.00" stroke="#000" stroke-width="1.2"/>
<line x1="257.80" y1="639.00" x2="260.80" y2="639.00" stroke="#000" stroke-width="1.0"/>
<text x="253.80" y="641.20" font-size="7.4" text-anchor="end" fill="#231f20" font-weight="normal" >0</text>
<line x1="257.80" y1="621.75" x2="260.80" y2="621.75" stroke="#000" stroke-width="1.0"/>
<text x="253.80" y="623.95" font-size="7.4" text-anchor="end" fill="#231f20" font-weight="normal" >5</text>
<line x1="257.80" y1="604.50" x2="260.80" y2="604.50" stroke="#000" stroke-width="1.0"/>
<text x="253.80" y="606.70" font-size="7.4" text-anchor="end" fill="#231f20" font-weight="normal" >10</text>
<line x1="257.80" y1="587.25" x2="260.80" y2="587.25" stroke="#000" stroke-width="1.0"/>
<text x="253.80" y="589.45" font-size="7.4" text-anchor="end" fill="#231f20" font-weight="normal" >15</text>
<text transform="translate(279.80,576.50) scale(0.95,1)" font-size="10.0" text-anchor="middle" fill="#231f20" font-weight="normal" >LTA</text>
<text x="279.80" y="592.80" font-size="7.3" text-anchor="middle" fill="#231f20"><tspan font-style="italic">P</tspan> = .002</text>
<rect x="263.20" y="606.23" width="15.9" height="32.77" fill="#2aa7df"/>
<line x1="271.15" y1="613.12" x2="271.15" y2="598.29" stroke="#2a2a2a" stroke-width="0.8"/>
<line x1="268.05" y1="613.12" x2="274.25" y2="613.12" stroke="#2a2a2a" stroke-width="0.8"/>
<line x1="268.05" y1="598.29" x2="274.25" y2="598.29" stroke="#2a2a2a" stroke-width="0.8"/>
<rect x="280.70" y="614.16" width="15.9" height="24.84" fill="#c8102e"/>
<line x1="288.65" y1="622.44" x2="288.65" y2="605.88" stroke="#2a2a2a" stroke-width="0.8"/>
<line x1="285.55" y1="622.44" x2="291.75" y2="622.44" stroke="#2a2a2a" stroke-width="0.8"/>
<line x1="285.55" y1="605.88" x2="291.75" y2="605.88" stroke="#2a2a2a" stroke-width="0.8"/>
<line x1="329.60" y1="639.60" x2="329.60" y2="582.00" stroke="#000" stroke-width="1.2"/>
<line x1="329.00" y1="639.00" x2="367.80" y2="639.00" stroke="#000" stroke-width="1.2"/>
<line x1="326.60" y1="639.00" x2="329.60" y2="639.00" stroke="#000" stroke-width="1.0"/>
<text x="322.60" y="641.20" font-size="7.4" text-anchor="end" fill="#231f20" font-weight="normal" >0</text>
<line x1="326.60" y1="619.60" x2="329.60" y2="619.60" stroke="#000" stroke-width="1.0"/>
<text x="322.60" y="621.80" font-size="7.4" text-anchor="end" fill="#231f20" font-weight="normal" >20</text>
<line x1="326.60" y1="600.20" x2="329.60" y2="600.20" stroke="#000" stroke-width="1.0"/>
<text x="322.60" y="602.40" font-size="7.4" text-anchor="end" fill="#231f20" font-weight="normal" >40</text>
<text transform="translate(348.60,576.50) scale(0.95,1)" font-size="10.0" text-anchor="middle" fill="#231f20" font-weight="normal" >TNF</text>
<text x="348.60" y="592.80" font-size="7.3" text-anchor="middle" fill="#231f20"><tspan font-style="italic">P</tspan> = .002</text>
<rect x="332.00" y="605.05" width="15.9" height="33.95" fill="#2aa7df"/>
<line x1="339.95" y1="611.84" x2="339.95" y2="598.26" stroke="#2a2a2a" stroke-width="0.8"/>
<line x1="336.85" y1="611.84" x2="343.05" y2="611.84" stroke="#2a2a2a" stroke-width="0.8"/>
<line x1="336.85" y1="598.26" x2="343.05" y2="598.26" stroke="#2a2a2a" stroke-width="0.8"/>
<rect x="349.50" y="620.57" width="15.9" height="18.43" fill="#c8102e"/>
<line x1="357.45" y1="623.48" x2="357.45" y2="617.66" stroke="#2a2a2a" stroke-width="0.8"/>
<line x1="354.35" y1="623.48" x2="360.55" y2="623.48" stroke="#2a2a2a" stroke-width="0.8"/>
<line x1="354.35" y1="617.66" x2="360.55" y2="617.66" stroke="#2a2a2a" stroke-width="0.8"/>
<line x1="402.70" y1="639.60" x2="402.70" y2="582.00" stroke="#000" stroke-width="1.2"/>
<line x1="402.10" y1="639.00" x2="440.90" y2="639.00" stroke="#000" stroke-width="1.2"/>
<line x1="399.70" y1="639.00" x2="402.70" y2="639.00" stroke="#000" stroke-width="1.0"/>
<text x="395.70" y="641.20" font-size="7.4" text-anchor="end" fill="#231f20" font-weight="normal" >0</text>
<line x1="399.70" y1="628.25" x2="402.70" y2="628.25" stroke="#000" stroke-width="1.0"/>
<text x="395.70" y="630.45" font-size="7.4" text-anchor="end" fill="#231f20" font-weight="normal" >250</text>
<line x1="399.70" y1="617.50" x2="402.70" y2="617.50" stroke="#000" stroke-width="1.0"/>
<text x="395.70" y="619.70" font-size="7.4" text-anchor="end" fill="#231f20" font-weight="normal" >500</text>
<line x1="399.70" y1="606.75" x2="402.70" y2="606.75" stroke="#000" stroke-width="1.0"/>
<text x="395.70" y="608.95" font-size="7.4" text-anchor="end" fill="#231f20" font-weight="normal" >750</text>
<line x1="399.70" y1="596.00" x2="402.70" y2="596.00" stroke="#000" stroke-width="1.0"/>
<text x="395.70" y="598.20" font-size="7.4" text-anchor="end" fill="#231f20" font-weight="normal" >1000</text>
<line x1="399.70" y1="585.25" x2="402.70" y2="585.25" stroke="#000" stroke-width="1.0"/>
<text x="395.70" y="587.45" font-size="7.4" text-anchor="end" fill="#231f20" font-weight="normal" >1250</text>
<text transform="translate(421.70,576.50) scale(0.95,1)" font-size="10.0" text-anchor="middle" fill="#231f20" font-weight="normal" >TNFSF12</text>
<text x="421.70" y="592.80" font-size="7.3" text-anchor="middle" fill="#231f20"><tspan font-style="italic">P</tspan> = .002</text>
<rect x="405.10" y="605.46" width="15.9" height="33.54" fill="#2aa7df"/>
<line x1="413.05" y1="612.34" x2="413.05" y2="598.58" stroke="#2a2a2a" stroke-width="0.8"/>
<line x1="409.95" y1="612.34" x2="416.15" y2="612.34" stroke="#2a2a2a" stroke-width="0.8"/>
<line x1="409.95" y1="598.58" x2="416.15" y2="598.58" stroke="#2a2a2a" stroke-width="0.8"/>
<rect x="422.60" y="626.10" width="15.9" height="12.90" fill="#c8102e"/>
<line x1="430.55" y1="628.68" x2="430.55" y2="623.52" stroke="#2a2a2a" stroke-width="0.8"/>
<line x1="427.45" y1="628.68" x2="433.65" y2="628.68" stroke="#2a2a2a" stroke-width="0.8"/>
<line x1="427.45" y1="623.52" x2="433.65" y2="623.52" stroke="#2a2a2a" stroke-width="0.8"/>
<line x1="474.00" y1="639.60" x2="474.00" y2="582.00" stroke="#000" stroke-width="1.2"/>
<line x1="473.40" y1="639.00" x2="512.20" y2="639.00" stroke="#000" stroke-width="1.2"/>
<line x1="471.00" y1="639.00" x2="474.00" y2="639.00" stroke="#000" stroke-width="1.0"/>
<text x="467.00" y="641.20" font-size="7.4" text-anchor="end" fill="#231f20" font-weight="normal" >0.0</text>
<line x1="471.00" y1="621.20" x2="474.00" y2="621.20" stroke="#000" stroke-width="1.0"/>
<text x="467.00" y="623.40" font-size="7.4" text-anchor="end" fill="#231f20" font-weight="normal" >0.2</text>
<line x1="471.00" y1="603.40" x2="474.00" y2="603.40" stroke="#000" stroke-width="1.0"/>
<text x="467.00" y="605.60" font-size="7.4" text-anchor="end" fill="#231f20" font-weight="normal" >0.4</text>
<line x1="471.00" y1="585.60" x2="474.00" y2="585.60" stroke="#000" stroke-width="1.0"/>
<text x="467.00" y="587.80" font-size="7.4" text-anchor="end" fill="#231f20" font-weight="normal" >0.6</text>
<text transform="translate(493.00,576.50) scale(0.95,1)" font-size="10.0" text-anchor="middle" fill="#231f20" font-weight="normal" >CSF2</text>
<text x="493.00" y="592.80" font-size="7.3" text-anchor="middle" fill="#231f20"><tspan font-style="italic">P</tspan> = .0039</text>
<rect x="476.40" y="610.52" width="15.9" height="28.48" fill="#2aa7df"/>
<line x1="484.35" y1="620.31" x2="484.35" y2="600.73" stroke="#2a2a2a" stroke-width="0.8"/>
<line x1="481.25" y1="620.31" x2="487.45" y2="620.31" stroke="#2a2a2a" stroke-width="0.8"/>
<line x1="481.25" y1="600.73" x2="487.45" y2="600.73" stroke="#2a2a2a" stroke-width="0.8"/>
<rect x="493.90" y="629.65" width="15.9" height="9.34" fill="#c8102e"/>
<line x1="501.85" y1="631.88" x2="501.85" y2="627.43" stroke="#2a2a2a" stroke-width="0.8"/>
<line x1="498.75" y1="631.88" x2="504.95" y2="631.88" stroke="#2a2a2a" stroke-width="0.8"/>
<line x1="498.75" y1="627.43" x2="504.95" y2="627.43" stroke="#2a2a2a" stroke-width="0.8"/>
<line x1="44.90" y1="722.20" x2="44.90" y2="664.60" stroke="#000" stroke-width="1.2"/>
<line x1="44.30" y1="721.60" x2="83.10" y2="721.60" stroke="#000" stroke-width="1.2"/>
<line x1="41.90" y1="721.60" x2="44.90" y2="721.60" stroke="#000" stroke-width="1.0"/>
<text x="37.90" y="723.80" font-size="7.4" text-anchor="end" fill="#231f20" font-weight="normal" >0</text>
<line x1="41.90" y1="710.95" x2="44.90" y2="710.95" stroke="#000" stroke-width="1.0"/>
<text x="37.90" y="713.15" font-size="7.4" text-anchor="end" fill="#231f20" font-weight="normal" >5</text>
<line x1="41.90" y1="700.30" x2="44.90" y2="700.30" stroke="#000" stroke-width="1.0"/>
<text x="37.90" y="702.50" font-size="7.4" text-anchor="end" fill="#231f20" font-weight="normal" >10</text>
<line x1="41.90" y1="689.65" x2="44.90" y2="689.65" stroke="#000" stroke-width="1.0"/>
<text x="37.90" y="691.85" font-size="7.4" text-anchor="end" fill="#231f20" font-weight="normal" >15</text>
<line x1="41.90" y1="679.00" x2="44.90" y2="679.00" stroke="#000" stroke-width="1.0"/>
<text x="37.90" y="681.20" font-size="7.4" text-anchor="end" fill="#231f20" font-weight="normal" >20</text>
<line x1="41.90" y1="668.35" x2="44.90" y2="668.35" stroke="#000" stroke-width="1.0"/>
<text x="37.90" y="670.55" font-size="7.4" text-anchor="end" fill="#231f20" font-weight="normal" >25</text>
<text transform="translate(63.90,659.10) scale(0.95,1)" font-size="10.0" text-anchor="middle" fill="#231f20" font-weight="normal" >IL10</text>
<text x="63.90" y="675.40" font-size="7.3" text-anchor="middle" fill="#231f20"><tspan font-style="italic">P</tspan> = .0039</text>
<rect x="47.30" y="690.72" width="15.9" height="30.88" fill="#2aa7df"/>
<line x1="55.25" y1="698.17" x2="55.25" y2="683.26" stroke="#2a2a2a" stroke-width="0.8"/>
<line x1="52.15" y1="698.17" x2="58.35" y2="698.17" stroke="#2a2a2a" stroke-width="0.8"/>
<line x1="52.15" y1="683.26" x2="58.35" y2="683.26" stroke="#2a2a2a" stroke-width="0.8"/>
<rect x="64.80" y="709.88" width="15.9" height="11.71" fill="#c8102e"/>
<line x1="72.75" y1="713.08" x2="72.75" y2="705.62" stroke="#2a2a2a" stroke-width="0.8"/>
<line x1="69.65" y1="713.08" x2="75.85" y2="713.08" stroke="#2a2a2a" stroke-width="0.8"/>
<line x1="69.65" y1="705.62" x2="75.85" y2="705.62" stroke="#2a2a2a" stroke-width="0.8"/>
<line x1="113.90" y1="722.20" x2="113.90" y2="664.60" stroke="#000" stroke-width="1.2"/>
<line x1="113.30" y1="721.60" x2="152.10" y2="721.60" stroke="#000" stroke-width="1.2"/>
<line x1="110.90" y1="721.60" x2="113.90" y2="721.60" stroke="#000" stroke-width="1.0"/>
<text x="106.90" y="723.80" font-size="7.4" text-anchor="end" fill="#231f20" font-weight="normal" >0</text>
<line x1="110.90" y1="704.00" x2="113.90" y2="704.00" stroke="#000" stroke-width="1.0"/>
<text x="106.90" y="706.20" font-size="7.4" text-anchor="end" fill="#231f20" font-weight="normal" >10</text>
<line x1="110.90" y1="686.40" x2="113.90" y2="686.40" stroke="#000" stroke-width="1.0"/>
<text x="106.90" y="688.60" font-size="7.4" text-anchor="end" fill="#231f20" font-weight="normal" >20</text>
<line x1="110.90" y1="668.80" x2="113.90" y2="668.80" stroke="#000" stroke-width="1.0"/>
<text x="106.90" y="671.00" font-size="7.4" text-anchor="end" fill="#231f20" font-weight="normal" >30</text>
<text transform="translate(132.90,659.10) scale(0.95,1)" font-size="10.0" text-anchor="middle" fill="#231f20" font-weight="normal" >IL27</text>
<text x="132.90" y="675.40" font-size="7.3" text-anchor="middle" fill="#231f20"><tspan font-style="italic">P</tspan> = .0039</text>
<rect x="116.30" y="689.92" width="15.9" height="31.68" fill="#2aa7df"/>
<line x1="124.25" y1="695.20" x2="124.25" y2="682.88" stroke="#2a2a2a" stroke-width="0.8"/>
<line x1="121.15" y1="695.20" x2="127.35" y2="695.20" stroke="#2a2a2a" stroke-width="0.8"/>
<line x1="121.15" y1="682.88" x2="127.35" y2="682.88" stroke="#2a2a2a" stroke-width="0.8"/>
<rect x="133.80" y="707.52" width="15.9" height="14.08" fill="#c8102e"/>
<line x1="141.75" y1="711.04" x2="141.75" y2="704.00" stroke="#2a2a2a" stroke-width="0.8"/>
<line x1="138.65" y1="711.04" x2="144.85" y2="711.04" stroke="#2a2a2a" stroke-width="0.8"/>
<line x1="138.65" y1="704.00" x2="144.85" y2="704.00" stroke="#2a2a2a" stroke-width="0.8"/>
<line x1="191.60" y1="722.20" x2="191.60" y2="664.60" stroke="#000" stroke-width="1.2"/>
<line x1="191.00" y1="721.60" x2="229.80" y2="721.60" stroke="#000" stroke-width="1.2"/>
<line x1="188.60" y1="721.60" x2="191.60" y2="721.60" stroke="#000" stroke-width="1.0"/>
<text x="184.60" y="723.80" font-size="7.4" text-anchor="end" fill="#231f20" font-weight="normal" >0</text>
<line x1="188.60" y1="704.30" x2="191.60" y2="704.30" stroke="#000" stroke-width="1.0"/>
<text x="184.60" y="706.50" font-size="7.4" text-anchor="end" fill="#231f20" font-weight="normal" >1</text>
<line x1="188.60" y1="687.00" x2="191.60" y2="687.00" stroke="#000" stroke-width="1.0"/>
<text x="184.60" y="689.20" font-size="7.4" text-anchor="end" fill="#231f20" font-weight="normal" >2</text>
<line x1="188.60" y1="669.70" x2="191.60" y2="669.70" stroke="#000" stroke-width="1.0"/>
<text x="184.60" y="671.90" font-size="7.4" text-anchor="end" fill="#231f20" font-weight="normal" >3</text>
<text transform="translate(210.60,659.10) scale(0.95,1)" font-size="10.0" text-anchor="middle" fill="#231f20" font-weight="normal" >IFNG</text>
<text x="210.60" y="675.40" font-size="7.3" text-anchor="middle" fill="#231f20"><tspan font-style="italic">P</tspan> = .0059</text>
<rect x="194.00" y="693.92" width="15.9" height="27.68" fill="#2aa7df"/>
<line x1="201.95" y1="707.76" x2="201.95" y2="680.95" stroke="#2a2a2a" stroke-width="0.8"/>
<line x1="198.85" y1="707.76" x2="205.05" y2="707.76" stroke="#2a2a2a" stroke-width="0.8"/>
<line x1="198.85" y1="680.95" x2="205.05" y2="680.95" stroke="#2a2a2a" stroke-width="0.8"/>
<rect x="211.50" y="706.38" width="15.9" height="15.22" fill="#c8102e"/>
<line x1="219.45" y1="715.55" x2="219.45" y2="697.03" stroke="#2a2a2a" stroke-width="0.8"/>
<line x1="216.35" y1="715.55" x2="222.55" y2="715.55" stroke="#2a2a2a" stroke-width="0.8"/>
<line x1="216.35" y1="697.03" x2="222.55" y2="697.03" stroke="#2a2a2a" stroke-width="0.8"/>
<line x1="260.80" y1="722.20" x2="260.80" y2="664.60" stroke="#000" stroke-width="1.2"/>
<line x1="260.20" y1="721.60" x2="299.00" y2="721.60" stroke="#000" stroke-width="1.2"/>
<line x1="257.80" y1="721.60" x2="260.80" y2="721.60" stroke="#000" stroke-width="1.0"/>
<text x="253.80" y="723.80" font-size="7.4" text-anchor="end" fill="#231f20" font-weight="normal" >0</text>
<line x1="257.80" y1="710.75" x2="260.80" y2="710.75" stroke="#000" stroke-width="1.0"/>
<text x="253.80" y="712.95" font-size="7.4" text-anchor="end" fill="#231f20" font-weight="normal" >10</text>
<line x1="257.80" y1="699.90" x2="260.80" y2="699.90" stroke="#000" stroke-width="1.0"/>
<text x="253.80" y="702.10" font-size="7.4" text-anchor="end" fill="#231f20" font-weight="normal" >20</text>
<line x1="257.80" y1="689.05" x2="260.80" y2="689.05" stroke="#000" stroke-width="1.0"/>
<text x="253.80" y="691.25" font-size="7.4" text-anchor="end" fill="#231f20" font-weight="normal" >30</text>
<line x1="257.80" y1="678.20" x2="260.80" y2="678.20" stroke="#000" stroke-width="1.0"/>
<text x="253.80" y="680.40" font-size="7.4" text-anchor="end" fill="#231f20" font-weight="normal" >40</text>
<line x1="257.80" y1="667.35" x2="260.80" y2="667.35" stroke="#000" stroke-width="1.0"/>
<text x="253.80" y="669.55" font-size="7.4" text-anchor="end" fill="#231f20" font-weight="normal" >50</text>
<text transform="translate(279.80,659.10) scale(0.95,1)" font-size="10.0" text-anchor="middle" fill="#231f20" font-weight="normal" >CCL3</text>
<text x="279.80" y="675.40" font-size="7.3" text-anchor="middle" fill="#231f20"><tspan font-style="italic">P</tspan> = .0078</text>
<rect x="263.20" y="693.39" width="15.9" height="28.21" fill="#2aa7df"/>
<line x1="271.15" y1="706.41" x2="271.15" y2="680.37" stroke="#2a2a2a" stroke-width="0.8"/>
<line x1="268.05" y1="706.41" x2="274.25" y2="706.41" stroke="#2a2a2a" stroke-width="0.8"/>
<line x1="268.05" y1="680.37" x2="274.25" y2="680.37" stroke="#2a2a2a" stroke-width="0.8"/>
<rect x="280.70" y="712.92" width="15.9" height="8.68" fill="#c8102e"/>
<line x1="288.65" y1="714.55" x2="288.65" y2="710.97" stroke="#2a2a2a" stroke-width="0.8"/>
<line x1="285.55" y1="714.55" x2="291.75" y2="714.55" stroke="#2a2a2a" stroke-width="0.8"/>
<line x1="285.55" y1="710.97" x2="291.75" y2="710.97" stroke="#2a2a2a" stroke-width="0.8"/>
<line x1="329.60" y1="722.20" x2="329.60" y2="664.60" stroke="#000" stroke-width="1.2"/>
<line x1="329.00" y1="721.60" x2="367.80" y2="721.60" stroke="#000" stroke-width="1.2"/>
<line x1="326.60" y1="721.60" x2="329.60" y2="721.60" stroke="#000" stroke-width="1.0"/>
<text x="322.60" y="723.80" font-size="7.4" text-anchor="end" fill="#231f20" font-weight="normal" >0</text>
<line x1="326.60" y1="707.30" x2="329.60" y2="707.30" stroke="#000" stroke-width="1.0"/>
<text x="322.60" y="709.50" font-size="7.4" text-anchor="end" fill="#231f20" font-weight="normal" >100</text>
<line x1="326.60" y1="693.00" x2="329.60" y2="693.00" stroke="#000" stroke-width="1.0"/>
<text x="322.60" y="695.20" font-size="7.4" text-anchor="end" fill="#231f20" font-weight="normal" >200</text>
<line x1="326.60" y1="678.70" x2="329.60" y2="678.70" stroke="#000" stroke-width="1.0"/>
<text x="322.60" y="680.90" font-size="7.4" text-anchor="end" fill="#231f20" font-weight="normal" >300</text>
<text transform="translate(348.60,659.10) scale(0.95,1)" font-size="10.0" text-anchor="middle" fill="#231f20" font-weight="normal" >CCL4</text>
<text x="348.60" y="675.40" font-size="7.3" text-anchor="middle" fill="#231f20"><tspan font-style="italic">P</tspan> = .014</text>
<rect x="332.00" y="691.57" width="15.9" height="30.03" fill="#2aa7df"/>
<line x1="339.95" y1="702.30" x2="339.95" y2="680.85" stroke="#2a2a2a" stroke-width="0.8"/>
<line x1="336.85" y1="702.30" x2="343.05" y2="702.30" stroke="#2a2a2a" stroke-width="0.8"/>
<line x1="336.85" y1="680.85" x2="343.05" y2="680.85" stroke="#2a2a2a" stroke-width="0.8"/>
<rect x="349.50" y="707.30" width="15.9" height="14.30" fill="#c8102e"/>
<line x1="357.45" y1="711.59" x2="357.45" y2="702.30" stroke="#2a2a2a" stroke-width="0.8"/>
<line x1="354.35" y1="711.59" x2="360.55" y2="711.59" stroke="#2a2a2a" stroke-width="0.8"/>
<line x1="354.35" y1="702.30" x2="360.55" y2="702.30" stroke="#2a2a2a" stroke-width="0.8"/>
<line x1="402.70" y1="722.20" x2="402.70" y2="664.60" stroke="#000" stroke-width="1.2"/>
<line x1="402.10" y1="721.60" x2="440.90" y2="721.60" stroke="#000" stroke-width="1.2"/>
<line x1="399.70" y1="721.60" x2="402.70" y2="721.60" stroke="#000" stroke-width="1.0"/>
<text x="395.70" y="723.80" font-size="7.4" text-anchor="end" fill="#231f20" font-weight="normal" >0</text>
<line x1="399.70" y1="709.85" x2="402.70" y2="709.85" stroke="#000" stroke-width="1.0"/>
<text x="395.70" y="712.05" font-size="7.4" text-anchor="end" fill="#231f20" font-weight="normal" >1000</text>
<line x1="399.70" y1="698.10" x2="402.70" y2="698.10" stroke="#000" stroke-width="1.0"/>
<text x="395.70" y="700.30" font-size="7.4" text-anchor="end" fill="#231f20" font-weight="normal" >2000</text>
<line x1="399.70" y1="686.35" x2="402.70" y2="686.35" stroke="#000" stroke-width="1.0"/>
<text x="395.70" y="688.55" font-size="7.4" text-anchor="end" fill="#231f20" font-weight="normal" >3000</text>
<line x1="399.70" y1="674.60" x2="402.70" y2="674.60" stroke="#000" stroke-width="1.0"/>
<text x="395.70" y="676.80" font-size="7.4" text-anchor="end" fill="#231f20" font-weight="normal" >4000</text>
<text transform="translate(421.70,659.10) scale(0.95,1)" font-size="10.0" text-anchor="middle" fill="#231f20" font-weight="normal" >HGF</text>
<text x="421.70" y="675.40" font-size="7.3" text-anchor="middle" fill="#231f20"><tspan font-style="italic">P</tspan> = .014</text>
<rect x="405.10" y="694.58" width="15.9" height="27.02" fill="#2aa7df"/>
<line x1="413.05" y1="707.50" x2="413.05" y2="681.06" stroke="#2a2a2a" stroke-width="0.8"/>
<line x1="409.95" y1="707.50" x2="416.15" y2="707.50" stroke="#2a2a2a" stroke-width="0.8"/>
<line x1="409.95" y1="681.06" x2="416.15" y2="681.06" stroke="#2a2a2a" stroke-width="0.8"/>
<rect x="422.60" y="702.21" width="15.9" height="19.39" fill="#c8102e"/>
<line x1="430.55" y1="714.55" x2="430.55" y2="689.88" stroke="#2a2a2a" stroke-width="0.8"/>
<line x1="427.45" y1="714.55" x2="433.65" y2="714.55" stroke="#2a2a2a" stroke-width="0.8"/>
<line x1="427.45" y1="689.88" x2="433.65" y2="689.88" stroke="#2a2a2a" stroke-width="0.8"/>
<line x1="474.00" y1="722.20" x2="474.00" y2="664.60" stroke="#000" stroke-width="1.2"/>
<line x1="473.40" y1="721.60" x2="512.20" y2="721.60" stroke="#000" stroke-width="1.2"/>
<line x1="471.00" y1="721.60" x2="474.00" y2="721.60" stroke="#000" stroke-width="1.0"/>
<text x="467.00" y="723.80" font-size="7.4" text-anchor="end" fill="#231f20" font-weight="normal" >0</text>
<line x1="471.00" y1="707.30" x2="474.00" y2="707.30" stroke="#000" stroke-width="1.0"/>
<text x="467.00" y="709.50" font-size="7.4" text-anchor="end" fill="#231f20" font-weight="normal" >100</text>
<line x1="471.00" y1="693.00" x2="474.00" y2="693.00" stroke="#000" stroke-width="1.0"/>
<text x="467.00" y="695.20" font-size="7.4" text-anchor="end" fill="#231f20" font-weight="normal" >200</text>
<line x1="471.00" y1="678.70" x2="474.00" y2="678.70" stroke="#000" stroke-width="1.0"/>
<text x="467.00" y="680.90" font-size="7.4" text-anchor="end" fill="#231f20" font-weight="normal" >300</text>
<text transform="translate(493.00,659.10) scale(0.95,1)" font-size="10.0" text-anchor="middle" fill="#231f20" font-weight="normal" >CXCL9</text>
<text x="493.00" y="675.40" font-size="7.3" text-anchor="middle" fill="#231f20"><tspan font-style="italic">P</tspan> = .02</text>
<rect x="476.40" y="689.43" width="15.9" height="32.17" fill="#2aa7df"/>
<line x1="484.35" y1="697.29" x2="484.35" y2="680.85" stroke="#2a2a2a" stroke-width="0.8"/>
<line x1="481.25" y1="697.29" x2="487.45" y2="697.29" stroke="#2a2a2a" stroke-width="0.8"/>
<line x1="481.25" y1="680.85" x2="487.45" y2="680.85" stroke="#2a2a2a" stroke-width="0.8"/>
<rect x="493.90" y="706.59" width="15.9" height="15.01" fill="#c8102e"/>
<line x1="501.85" y1="710.88" x2="501.85" y2="702.30" stroke="#2a2a2a" stroke-width="0.8"/>
<line x1="498.75" y1="710.88" x2="504.95" y2="710.88" stroke="#2a2a2a" stroke-width="0.8"/>
<line x1="498.75" y1="702.30" x2="504.95" y2="702.30" stroke="#2a2a2a" stroke-width="0.8"/>
<line x1="44.90" y1="805.70" x2="44.90" y2="748.10" stroke="#000" stroke-width="1.2"/>
<line x1="44.30" y1="805.10" x2="83.10" y2="805.10" stroke="#000" stroke-width="1.2"/>
<line x1="41.90" y1="805.10" x2="44.90" y2="805.10" stroke="#000" stroke-width="1.0"/>
<text x="37.90" y="807.30" font-size="7.4" text-anchor="end" fill="#231f20" font-weight="normal" >0.00</text>
<line x1="41.90" y1="788.95" x2="44.90" y2="788.95" stroke="#000" stroke-width="1.0"/>
<text x="37.90" y="791.15" font-size="7.4" text-anchor="end" fill="#231f20" font-weight="normal" >0.05</text>
<line x1="41.90" y1="772.80" x2="44.90" y2="772.80" stroke="#000" stroke-width="1.0"/>
<text x="37.90" y="775.00" font-size="7.4" text-anchor="end" fill="#231f20" font-weight="normal" >0.10</text>
<line x1="41.90" y1="756.65" x2="44.90" y2="756.65" stroke="#000" stroke-width="1.0"/>
<text x="37.90" y="758.85" font-size="7.4" text-anchor="end" fill="#231f20" font-weight="normal" >0.15</text>
<text transform="translate(63.90,742.60) scale(0.95,1)" font-size="10.0" text-anchor="middle" fill="#231f20" font-weight="normal" >IL2</text>
<text x="63.90" y="758.90" font-size="7.3" text-anchor="middle" fill="#231f20"><tspan font-style="italic">P</tspan> = .02</text>
<rect x="47.30" y="776.03" width="15.9" height="29.07" fill="#2aa7df"/>
<line x1="55.25" y1="786.69" x2="55.25" y2="764.73" stroke="#2a2a2a" stroke-width="0.8"/>
<line x1="52.15" y1="786.69" x2="58.35" y2="786.69" stroke="#2a2a2a" stroke-width="0.8"/>
<line x1="52.15" y1="764.73" x2="58.35" y2="764.73" stroke="#2a2a2a" stroke-width="0.8"/>
<rect x="64.80" y="795.41" width="15.9" height="9.69" fill="#c8102e"/>
<line x1="72.75" y1="798.64" x2="72.75" y2="792.18" stroke="#2a2a2a" stroke-width="0.8"/>
<line x1="69.65" y1="798.64" x2="75.85" y2="798.64" stroke="#2a2a2a" stroke-width="0.8"/>
<line x1="69.65" y1="792.18" x2="75.85" y2="792.18" stroke="#2a2a2a" stroke-width="0.8"/>
<line x1="55.25" y1="805.10" x2="55.25" y2="807.60" stroke="#000" stroke-width="1.0"/>
<text transform="translate(59.05,817.20) rotate(-45) scale(0.9,1)" font-size="7.6" text-anchor="end" fill="#231f20" >Pre GSI</text>
<line x1="72.75" y1="805.10" x2="72.75" y2="807.60" stroke="#000" stroke-width="1.0"/>
<text transform="translate(76.55,817.20) rotate(-45) scale(0.9,1)" font-size="7.6" text-anchor="end" fill="#231f20" >Post GSI</text>
<line x1="113.90" y1="805.70" x2="113.90" y2="748.10" stroke="#000" stroke-width="1.2"/>
<line x1="113.30" y1="805.10" x2="152.10" y2="805.10" stroke="#000" stroke-width="1.2"/>
<line x1="110.90" y1="805.10" x2="113.90" y2="805.10" stroke="#000" stroke-width="1.0"/>
<text x="106.90" y="807.30" font-size="7.4" text-anchor="end" fill="#231f20" font-weight="normal" >0</text>
<line x1="110.90" y1="791.00" x2="113.90" y2="791.00" stroke="#000" stroke-width="1.0"/>
<text x="106.90" y="793.20" font-size="7.4" text-anchor="end" fill="#231f20" font-weight="normal" >2</text>
<line x1="110.90" y1="776.90" x2="113.90" y2="776.90" stroke="#000" stroke-width="1.0"/>
<text x="106.90" y="779.10" font-size="7.4" text-anchor="end" fill="#231f20" font-weight="normal" >4</text>
<line x1="110.90" y1="762.80" x2="113.90" y2="762.80" stroke="#000" stroke-width="1.0"/>
<text x="106.90" y="765.00" font-size="7.4" text-anchor="end" fill="#231f20" font-weight="normal" >6</text>
<line x1="110.90" y1="748.70" x2="113.90" y2="748.70" stroke="#000" stroke-width="1.0"/>
<text x="106.90" y="750.90" font-size="7.4" text-anchor="end" fill="#231f20" font-weight="normal" >8</text>
<text transform="translate(132.90,742.60) scale(0.95,1)" font-size="10.0" text-anchor="middle" fill="#231f20" font-weight="normal" >IL7</text>
<text x="132.90" y="758.90" font-size="7.3" text-anchor="middle" fill="#231f20"><tspan font-style="italic">P</tspan> = .02</text>
<rect x="116.30" y="769.14" width="15.9" height="35.95" fill="#2aa7df"/>
<line x1="124.25" y1="774.08" x2="124.25" y2="764.21" stroke="#2a2a2a" stroke-width="0.8"/>
<line x1="121.15" y1="774.08" x2="127.35" y2="774.08" stroke="#2a2a2a" stroke-width="0.8"/>
<line x1="121.15" y1="764.21" x2="127.35" y2="764.21" stroke="#2a2a2a" stroke-width="0.8"/>
<rect x="133.80" y="781.13" width="15.9" height="23.97" fill="#c8102e"/>
<line x1="141.75" y1="785.36" x2="141.75" y2="776.90" stroke="#2a2a2a" stroke-width="0.8"/>
<line x1="138.65" y1="785.36" x2="144.85" y2="785.36" stroke="#2a2a2a" stroke-width="0.8"/>
<line x1="138.65" y1="776.90" x2="144.85" y2="776.90" stroke="#2a2a2a" stroke-width="0.8"/>
<line x1="124.25" y1="805.10" x2="124.25" y2="807.60" stroke="#000" stroke-width="1.0"/>
<text transform="translate(128.05,817.20) rotate(-45) scale(0.9,1)" font-size="7.6" text-anchor="end" fill="#231f20" >Pre GSI</text>
<line x1="141.75" y1="805.10" x2="141.75" y2="807.60" stroke="#000" stroke-width="1.0"/>
<text transform="translate(145.55,817.20) rotate(-45) scale(0.9,1)" font-size="7.6" text-anchor="end" fill="#231f20" >Post GSI</text>
<line x1="191.60" y1="805.70" x2="191.60" y2="748.10" stroke="#000" stroke-width="1.2"/>
<line x1="191.00" y1="805.10" x2="229.80" y2="805.10" stroke="#000" stroke-width="1.2"/>
<line x1="188.60" y1="805.10" x2="191.60" y2="805.10" stroke="#000" stroke-width="1.0"/>
<text x="184.60" y="807.30" font-size="7.4" text-anchor="end" fill="#231f20" font-weight="normal" >0</text>
<line x1="188.60" y1="785.20" x2="191.60" y2="785.20" stroke="#000" stroke-width="1.0"/>
<text x="184.60" y="787.40" font-size="7.4" text-anchor="end" fill="#231f20" font-weight="normal" >5000</text>
<line x1="188.60" y1="765.30" x2="191.60" y2="765.30" stroke="#000" stroke-width="1.0"/>
<text x="184.60" y="767.50" font-size="7.4" text-anchor="end" fill="#231f20" font-weight="normal" >10000</text>
<text transform="translate(210.60,742.60) scale(0.95,1)" font-size="10.0" text-anchor="middle" fill="#231f20" font-weight="normal" >LAG3</text>
<text x="210.60" y="758.90" font-size="7.3" text-anchor="middle" fill="#231f20"><tspan font-style="italic">P</tspan> = .02</text>
<rect x="194.00" y="791.17" width="15.9" height="13.93" fill="#2aa7df"/>
<line x1="201.95" y1="793.96" x2="201.95" y2="788.38" stroke="#2a2a2a" stroke-width="0.8"/>
<line x1="198.85" y1="793.96" x2="205.05" y2="793.96" stroke="#2a2a2a" stroke-width="0.8"/>
<line x1="198.85" y1="788.38" x2="205.05" y2="788.38" stroke="#2a2a2a" stroke-width="0.8"/>
<rect x="211.50" y="775.65" width="15.9" height="29.45" fill="#c8102e"/>
<line x1="219.45" y1="786.79" x2="219.45" y2="764.50" stroke="#2a2a2a" stroke-width="0.8"/>
<line x1="216.35" y1="786.79" x2="222.55" y2="786.79" stroke="#2a2a2a" stroke-width="0.8"/>
<line x1="216.35" y1="764.50" x2="222.55" y2="764.50" stroke="#2a2a2a" stroke-width="0.8"/>
<line x1="201.95" y1="805.10" x2="201.95" y2="807.60" stroke="#000" stroke-width="1.0"/>
<text transform="translate(205.75,817.20) rotate(-45) scale(0.9,1)" font-size="7.6" text-anchor="end" fill="#231f20" >Pre GSI</text>
<line x1="219.45" y1="805.10" x2="219.45" y2="807.60" stroke="#000" stroke-width="1.0"/>
<text transform="translate(223.25,817.20) rotate(-45) scale(0.9,1)" font-size="7.6" text-anchor="end" fill="#231f20" >Post GSI</text>
<line x1="260.80" y1="805.70" x2="260.80" y2="748.10" stroke="#000" stroke-width="1.2"/>
<line x1="260.20" y1="805.10" x2="299.00" y2="805.10" stroke="#000" stroke-width="1.2"/>
<line x1="257.80" y1="805.10" x2="260.80" y2="805.10" stroke="#000" stroke-width="1.0"/>
<text x="253.80" y="807.30" font-size="7.4" text-anchor="end" fill="#231f20" font-weight="normal" >0</text>
<line x1="257.80" y1="790.50" x2="260.80" y2="790.50" stroke="#000" stroke-width="1.0"/>
<text x="253.80" y="792.70" font-size="7.4" text-anchor="end" fill="#231f20" font-weight="normal" >250</text>
<line x1="257.80" y1="775.90" x2="260.80" y2="775.90" stroke="#000" stroke-width="1.0"/>
<text x="253.80" y="778.10" font-size="7.4" text-anchor="end" fill="#231f20" font-weight="normal" >500</text>
<line x1="257.80" y1="761.30" x2="260.80" y2="761.30" stroke="#000" stroke-width="1.0"/>
<text x="253.80" y="763.50" font-size="7.4" text-anchor="end" fill="#231f20" font-weight="normal" >750</text>
<text transform="translate(279.80,742.60) scale(0.95,1)" font-size="10.0" text-anchor="middle" fill="#231f20" font-weight="normal" >MMP12</text>
<text x="279.80" y="758.90" font-size="7.3" text-anchor="middle" fill="#231f20"><tspan font-style="italic">P</tspan> = .02</text>
<rect x="263.20" y="777.65" width="15.9" height="27.45" fill="#2aa7df"/>
<line x1="271.15" y1="790.50" x2="271.15" y2="764.80" stroke="#2a2a2a" stroke-width="0.8"/>
<line x1="268.05" y1="790.50" x2="274.25" y2="790.50" stroke="#2a2a2a" stroke-width="0.8"/>
<line x1="268.05" y1="764.80" x2="274.25" y2="764.80" stroke="#2a2a2a" stroke-width="0.8"/>
<rect x="280.70" y="792.54" width="15.9" height="12.56" fill="#c8102e"/>
<line x1="288.65" y1="795.17" x2="288.65" y2="789.62" stroke="#2a2a2a" stroke-width="0.8"/>
<line x1="285.55" y1="795.17" x2="291.75" y2="795.17" stroke="#2a2a2a" stroke-width="0.8"/>
<line x1="285.55" y1="789.62" x2="291.75" y2="789.62" stroke="#2a2a2a" stroke-width="0.8"/>
<line x1="271.15" y1="805.10" x2="271.15" y2="807.60" stroke="#000" stroke-width="1.0"/>
<text transform="translate(274.95,817.20) rotate(-45) scale(0.9,1)" font-size="7.6" text-anchor="end" fill="#231f20" >Pre GSI</text>
<line x1="288.65" y1="805.10" x2="288.65" y2="807.60" stroke="#000" stroke-width="1.0"/>
<text transform="translate(292.45,817.20) rotate(-45) scale(0.9,1)" font-size="7.6" text-anchor="end" fill="#231f20" >Post GSI</text>
<line x1="329.60" y1="805.70" x2="329.60" y2="748.10" stroke="#000" stroke-width="1.2"/>
<line x1="329.00" y1="805.10" x2="367.80" y2="805.10" stroke="#000" stroke-width="1.2"/>
<line x1="326.60" y1="805.10" x2="329.60" y2="805.10" stroke="#000" stroke-width="1.0"/>
<text x="322.60" y="807.30" font-size="7.4" text-anchor="end" fill="#231f20" font-weight="normal" >0.0</text>
<line x1="326.60" y1="792.35" x2="329.60" y2="792.35" stroke="#000" stroke-width="1.0"/>
<text x="322.60" y="794.55" font-size="7.4" text-anchor="end" fill="#231f20" font-weight="normal" >0.1</text>
<line x1="326.60" y1="779.60" x2="329.60" y2="779.60" stroke="#000" stroke-width="1.0"/>
<text x="322.60" y="781.80" font-size="7.4" text-anchor="end" fill="#231f20" font-weight="normal" >0.2</text>
<line x1="326.60" y1="766.85" x2="329.60" y2="766.85" stroke="#000" stroke-width="1.0"/>
<text x="322.60" y="769.05" font-size="7.4" text-anchor="end" fill="#231f20" font-weight="normal" >0.3</text>
<line x1="326.60" y1="754.10" x2="329.60" y2="754.10" stroke="#000" stroke-width="1.0"/>
<text x="322.60" y="756.30" font-size="7.4" text-anchor="end" fill="#231f20" font-weight="normal" >0.4</text>
<text transform="translate(348.60,742.60) scale(0.95,1)" font-size="10.0" text-anchor="middle" fill="#231f20" font-weight="normal" >IL1B</text>
<text x="348.60" y="758.90" font-size="7.3" text-anchor="middle" fill="#231f20"><tspan font-style="italic">P</tspan> = .027</text>
<rect x="332.00" y="773.86" width="15.9" height="31.24" fill="#2aa7df"/>
<line x1="339.95" y1="783.43" x2="339.95" y2="764.30" stroke="#2a2a2a" stroke-width="0.8"/>
<line x1="336.85" y1="783.43" x2="343.05" y2="783.43" stroke="#2a2a2a" stroke-width="0.8"/>
<line x1="336.85" y1="764.30" x2="343.05" y2="764.30" stroke="#2a2a2a" stroke-width="0.8"/>
<rect x="349.50" y="792.35" width="15.9" height="12.75" fill="#c8102e"/>
<line x1="357.45" y1="796.81" x2="357.45" y2="787.25" stroke="#2a2a2a" stroke-width="0.8"/>
<line x1="354.35" y1="796.81" x2="360.55" y2="796.81" stroke="#2a2a2a" stroke-width="0.8"/>
<line x1="354.35" y1="787.25" x2="360.55" y2="787.25" stroke="#2a2a2a" stroke-width="0.8"/>
<line x1="339.95" y1="805.10" x2="339.95" y2="807.60" stroke="#000" stroke-width="1.0"/>
<text transform="translate(343.75,817.20) rotate(-45) scale(0.9,1)" font-size="7.6" text-anchor="end" fill="#231f20" >Pre GSI</text>
<line x1="357.45" y1="805.10" x2="357.45" y2="807.60" stroke="#000" stroke-width="1.0"/>
<text transform="translate(361.25,817.20) rotate(-45) scale(0.9,1)" font-size="7.6" text-anchor="end" fill="#231f20" >Post GSI</text>
<line x1="402.70" y1="805.70" x2="402.70" y2="748.10" stroke="#000" stroke-width="1.2"/>
<line x1="402.10" y1="805.10" x2="440.90" y2="805.10" stroke="#000" stroke-width="1.2"/>
<line x1="399.70" y1="805.10" x2="402.70" y2="805.10" stroke="#000" stroke-width="1.0"/>
<text x="395.70" y="807.30" font-size="7.4" text-anchor="end" fill="#231f20" font-weight="normal" >0</text>
<line x1="399.70" y1="792.10" x2="402.70" y2="792.10" stroke="#000" stroke-width="1.0"/>
<text x="395.70" y="794.30" font-size="7.4" text-anchor="end" fill="#231f20" font-weight="normal" >200</text>
<line x1="399.70" y1="779.10" x2="402.70" y2="779.10" stroke="#000" stroke-width="1.0"/>
<text x="395.70" y="781.30" font-size="7.4" text-anchor="end" fill="#231f20" font-weight="normal" >400</text>
<line x1="399.70" y1="766.10" x2="402.70" y2="766.10" stroke="#000" stroke-width="1.0"/>
<text x="395.70" y="768.30" font-size="7.4" text-anchor="end" fill="#231f20" font-weight="normal" >600</text>
<line x1="399.70" y1="753.10" x2="402.70" y2="753.10" stroke="#000" stroke-width="1.0"/>
<text x="395.70" y="755.30" font-size="7.4" text-anchor="end" fill="#231f20" font-weight="normal" >800</text>
<text transform="translate(421.70,742.60) scale(0.95,1)" font-size="10.0" text-anchor="middle" fill="#231f20" font-weight="normal" >CCL2</text>
<text x="421.70" y="758.90" font-size="7.3" text-anchor="middle" fill="#231f20"><tspan font-style="italic">P</tspan> = .049</text>
<rect x="405.10" y="768.38" width="15.9" height="36.73" fill="#2aa7df"/>
<line x1="413.05" y1="773.25" x2="413.05" y2="764.15" stroke="#2a2a2a" stroke-width="0.8"/>
<line x1="409.95" y1="773.25" x2="416.15" y2="773.25" stroke="#2a2a2a" stroke-width="0.8"/>
<line x1="409.95" y1="764.15" x2="416.15" y2="764.15" stroke="#2a2a2a" stroke-width="0.8"/>
<rect x="422.60" y="779.10" width="15.9" height="26.00" fill="#c8102e"/>
<line x1="430.55" y1="784.95" x2="430.55" y2="774.23" stroke="#2a2a2a" stroke-width="0.8"/>
<line x1="427.45" y1="784.95" x2="433.65" y2="784.95" stroke="#2a2a2a" stroke-width="0.8"/>
<line x1="427.45" y1="774.23" x2="433.65" y2="774.23" stroke="#2a2a2a" stroke-width="0.8"/>
<line x1="413.05" y1="805.10" x2="413.05" y2="807.60" stroke="#000" stroke-width="1.0"/>
<text transform="translate(416.85,817.20) rotate(-45) scale(0.9,1)" font-size="7.6" text-anchor="end" fill="#231f20" >Pre GSI</text>
<line x1="430.55" y1="805.10" x2="430.55" y2="807.60" stroke="#000" stroke-width="1.0"/>
<text transform="translate(434.35,817.20) rotate(-45) scale(0.9,1)" font-size="7.6" text-anchor="end" fill="#231f20" >Post GSI</text>
<line x1="474.00" y1="805.70" x2="474.00" y2="748.10" stroke="#000" stroke-width="1.2"/>
<line x1="473.40" y1="805.10" x2="512.20" y2="805.10" stroke="#000" stroke-width="1.2"/>
<line x1="471.00" y1="805.10" x2="474.00" y2="805.10" stroke="#000" stroke-width="1.0"/>
<text x="467.00" y="807.30" font-size="7.4" text-anchor="end" fill="#231f20" font-weight="normal" >0</text>
<line x1="471.00" y1="785.10" x2="474.00" y2="785.10" stroke="#000" stroke-width="1.0"/>
<text x="467.00" y="787.30" font-size="7.4" text-anchor="end" fill="#231f20" font-weight="normal" >20</text>
<line x1="471.00" y1="765.10" x2="474.00" y2="765.10" stroke="#000" stroke-width="1.0"/>
<text x="467.00" y="767.30" font-size="7.4" text-anchor="end" fill="#231f20" font-weight="normal" >40</text>
<text transform="translate(493.00,742.60) scale(0.95,1)" font-size="10.0" text-anchor="middle" fill="#231f20" font-weight="normal" >CCL8</text>
<text x="493.00" y="758.90" font-size="7.3" text-anchor="middle" fill="#231f20"><tspan font-style="italic">P</tspan> = .049</text>
<rect x="476.40" y="768.10" width="15.9" height="37.00" fill="#2aa7df"/>
<line x1="484.35" y1="772.10" x2="484.35" y2="764.10" stroke="#2a2a2a" stroke-width="0.8"/>
<line x1="481.25" y1="772.10" x2="487.45" y2="772.10" stroke="#2a2a2a" stroke-width="0.8"/>
<line x1="481.25" y1="764.10" x2="487.45" y2="764.10" stroke="#2a2a2a" stroke-width="0.8"/>
<rect x="493.90" y="778.10" width="15.9" height="27.00" fill="#c8102e"/>
<line x1="501.85" y1="781.10" x2="501.85" y2="774.60" stroke="#2a2a2a" stroke-width="0.8"/>
<line x1="498.75" y1="781.10" x2="504.95" y2="781.10" stroke="#2a2a2a" stroke-width="0.8"/>
<line x1="498.75" y1="774.60" x2="504.95" y2="774.60" stroke="#2a2a2a" stroke-width="0.8"/>
<line x1="484.35" y1="805.10" x2="484.35" y2="807.60" stroke="#000" stroke-width="1.0"/>
<text transform="translate(488.15,817.20) rotate(-45) scale(0.9,1)" font-size="7.6" text-anchor="end" fill="#231f20" >Pre GSI</text>
<line x1="501.85" y1="805.10" x2="501.85" y2="807.60" stroke="#000" stroke-width="1.0"/>
<text transform="translate(505.65,817.20) rotate(-45) scale(0.9,1)" font-size="7.6" text-anchor="end" fill="#231f20" >Post GSI</text>
<text transform="translate(15.50,693.70) rotate(-90)" font-size="9.2" text-anchor="middle" fill="#231f20" textLength="106" lengthAdjust="spacingAndGlyphs" >Plasma concentration (pg/mL)</text>
<rect x="0" y="0" width="1" height="847" fill="#363636"/>
<rect x="0" y="0" width="520" height="1" fill="#363636"/>
<rect x="519" y="0" width="1" height="847" fill="#444"/>
<rect x="0" y="845.6" width="520" height="1.4" fill="#2e2e2e"/>
</svg>
</body></html>
